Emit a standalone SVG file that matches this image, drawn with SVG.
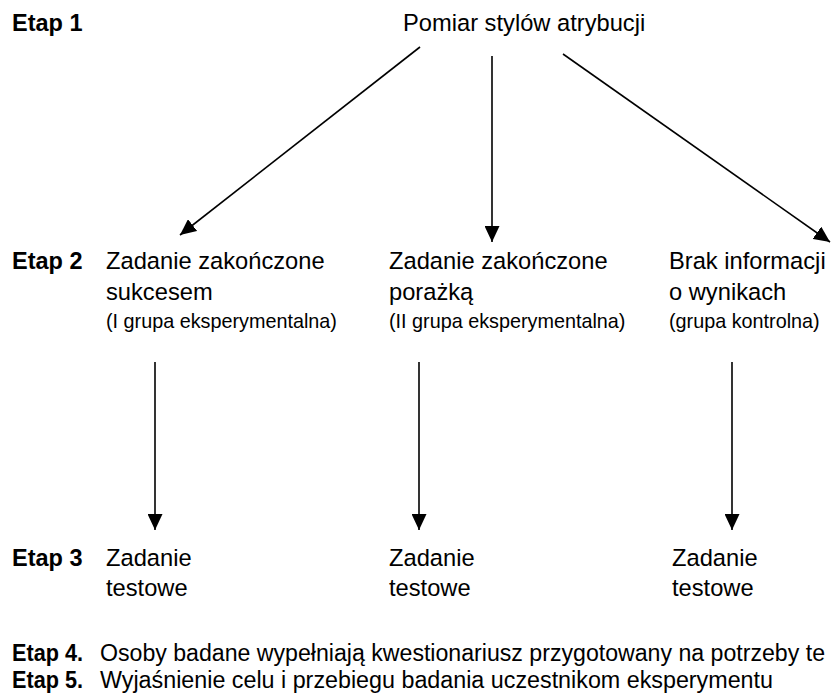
<svg xmlns="http://www.w3.org/2000/svg" width="837" height="698" viewBox="0 0 837 698">
<style>
text{font-family:"Liberation Sans",Arial,sans-serif;fill:#000}
.b{font-weight:bold;font-size:23.5px}
.m{font-size:23.7px}
.s{font-size:19.8px}
.f{font-size:23.3px}
.c{stroke:#000;stroke-width:1.6;fill:none}
</style>
<defs>
<marker id="ah" viewBox="0 0 16 15" refX="16" refY="7.5" markerWidth="16" markerHeight="15" markerUnits="userSpaceOnUse" orient="auto">
<path d="M0,0 L16,7.5 L0,15 z" fill="#000"/>
</marker>
</defs>
<g id="labels">
<text class="b" x="12" y="31">Etap 1</text>
<text class="b" x="12" y="269">Etap 2</text>
<text class="b" x="12" y="566">Etap 3</text>
</g>
<g id="n-pomiar"><text class="m" x="403" y="31">Pomiar stylów atrybucji</text></g>
<g id="n-sukces">
<text class="m" x="106" y="269">Zadanie zakończone</text>
<text class="m" x="106" y="300">sukcesem</text>
<text class="s" x="106" y="328">(I grupa eksperymentalna)</text>
</g>
<g id="n-porazka">
<text class="m" x="389" y="269">Zadanie zakończone</text>
<text class="m" x="389" y="300">porażką</text>
<text class="s" x="389" y="328">(II grupa eksperymentalna)</text>
</g>
<g id="n-brak">
<text class="m" x="669" y="269">Brak informacji</text>
<text class="m" x="669" y="300">o wynikach</text>
<text class="s" x="669" y="328">(grupa kontrolna)</text>
</g>
<g id="n-test1"><text class="m" x="106" y="566">Zadanie</text><text class="m" x="106" y="596">testowe</text></g>
<g id="n-test2"><text class="m" x="389" y="566">Zadanie</text><text class="m" x="389" y="596">testowe</text></g>
<g id="n-test3"><text class="m" x="672" y="566">Zadanie</text><text class="m" x="672" y="596">testowe</text></g>
<g id="connectors">
<line class="c" x1="420" y1="47" x2="180" y2="235" marker-end="url(#ah)"/>
<line class="c" x1="492" y1="56" x2="492" y2="242" marker-end="url(#ah)"/>
<line class="c" x1="563" y1="54" x2="830" y2="242" marker-end="url(#ah)"/>
<line class="c" x1="155" y1="362" x2="155" y2="530" marker-end="url(#ah)"/>
<line class="c" x1="419" y1="362" x2="419" y2="530" marker-end="url(#ah)"/>
<line class="c" x1="732" y1="362" x2="732" y2="530" marker-end="url(#ah)"/>
</g>
<g id="footer">
<text class="f" x="12" y="661" font-weight="bold" textLength="71" lengthAdjust="spacingAndGlyphs">Etap 4.</text>
<text x="100" y="661" font-size="23" textLength="725" lengthAdjust="spacingAndGlyphs">Osoby badane wypełniają kwestionariusz przygotowany na potrzeby te</text>
<text class="f" x="12" y="688" font-weight="bold" textLength="71" lengthAdjust="spacingAndGlyphs">Etap 5.</text>
<text class="f" x="100" y="688" textLength="673" lengthAdjust="spacingAndGlyphs">Wyjaśnienie celu i przebiegu badania uczestnikom eksperymentu</text>
</g>
</svg>
